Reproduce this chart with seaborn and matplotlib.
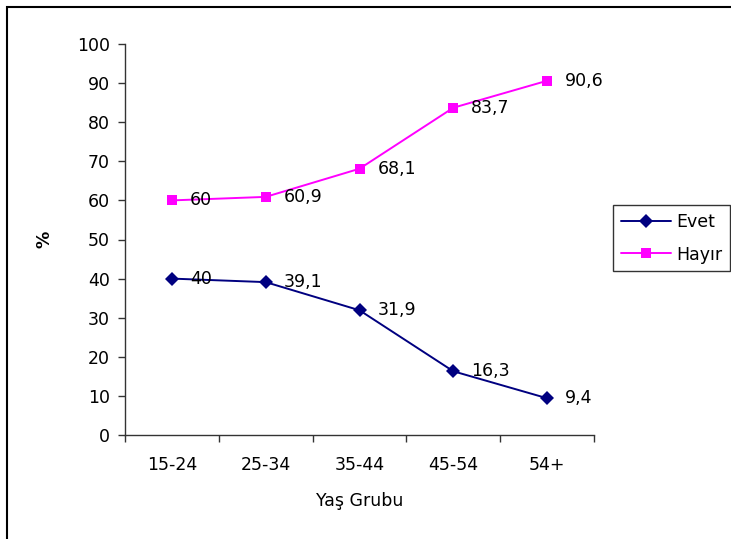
import numpy as np
import pandas as pd
import matplotlib
matplotlib.use("Agg")
import matplotlib.pyplot as plt
import seaborn as sns
from matplotlib.patches import Rectangle
from matplotlib.lines import Line2D

# Data
groups = ["15-24", "25-34", "35-44", "45-54", "54+"]
evet = [40, 39.1, 31.9, 16.3, 9.4]
hayir = [60, 60.9, 68.1, 83.7, 90.6]
labels_evet = ["40", "39,1", "31,9", "16,3", "9,4"]
labels_hayir = ["60", "60,9", "68,1", "83,7", "90,6"]

df = pd.DataFrame({
    "grup": groups * 2,
    "deger": evet + hayir,
    "seri": ["Evet"] * len(groups) + ["Hayır"] * len(groups),
})

sns.set_style("white")
plt.rcParams['font.family'] = ['DejaVu Sans']
plt.rcParams['text.color'] = 'black'
plt.rcParams['xtick.color'] = 'black'
plt.rcParams['ytick.color'] = 'black'
plt.rcParams['axes.labelcolor'] = 'black'
fs = 12.5

fig = plt.figure(figsize=(7.31, 5.39), dpi=100)
ax = fig.add_axes([125/731, 1 - 435/539, (594 - 125)/731, (435 - 44)/539])

palette = {"Evet": "#000080", "Hayır": "#FF00FF"}
markers = {"Evet": "D", "Hayır": "s"}
sns.lineplot(data=df, x="grup", y="deger", hue="seri", style="seri",
             palette=palette, markers=markers, dashes=False,
             markersize=7.5, linewidth=1.4, markeredgewidth=0,
             sort=False, ax=ax, legend=False)

# data labels
for i in range(len(groups)):
    ax.text(i + 0.19, evet[i], labels_evet[i], fontsize=fs, va="center", ha="left")
    ax.text(i + 0.19, hayir[i], labels_hayir[i], fontsize=fs, va="center", ha="left")

ax.set_xlim(-0.5, len(groups) - 0.5)
ax.set_ylim(0, 100)
ax.set_yticks(np.arange(0, 101, 10))
ax.set_xticks(range(len(groups)))
ax.set_xticklabels(groups)
ax.set_xticks(np.arange(-0.5, len(groups), 1), minor=True)
ax.tick_params(axis="x", which="major", length=0, pad=15, labelsize=fs)
ax.tick_params(axis="x", which="minor", length=5, width=1, color="#333333", direction="out")
ax.tick_params(axis="y", length=5, width=1, color="#333333", direction="out", labelsize=fs, pad=6)
ax.xaxis.set_ticks_position("bottom")
ax.yaxis.set_ticks_position("left")

for s in ["top", "right"]:
    ax.spines[s].set_visible(False)
for s in ["left", "bottom"]:
    ax.spines[s].set_color("#333333")
    ax.spines[s].set_linewidth(1)

ax.set_xlabel("Yaş Grubu", fontsize=fs, labelpad=13)
ax.set_ylabel("%", fontsize=fs, fontweight="bold")
ax.yaxis.set_label_coords(-72/469, 0.5)

# legend
handles = [Line2D([], [], color=palette[k], marker=markers[k], markersize=7.5,
                  markeredgewidth=0, linewidth=1.4) for k in ["Evet", "Hayır"]]
leg = fig.legend(handles, ["Evet", "Hayır"], loc="upper left",
                 bbox_to_anchor=(613/731, 1 - 205/539), fontsize=fs,
                 frameon=True, fancybox=False, handlelength=2.9,
                 borderpad=0.45, labelspacing=0.85, handletextpad=0.3,
                 borderaxespad=0)
leg.get_frame().set_edgecolor("black")
leg.get_frame().set_linewidth(1)

# outer chart border
fig.patches.append(Rectangle((7/731, -0.1), 1.1, 1 - 7/539 + 0.1,
                             transform=fig.transFigure, fill=False,
                             edgecolor="black", linewidth=1.5))

fig.savefig("out.png", dpi=100)
